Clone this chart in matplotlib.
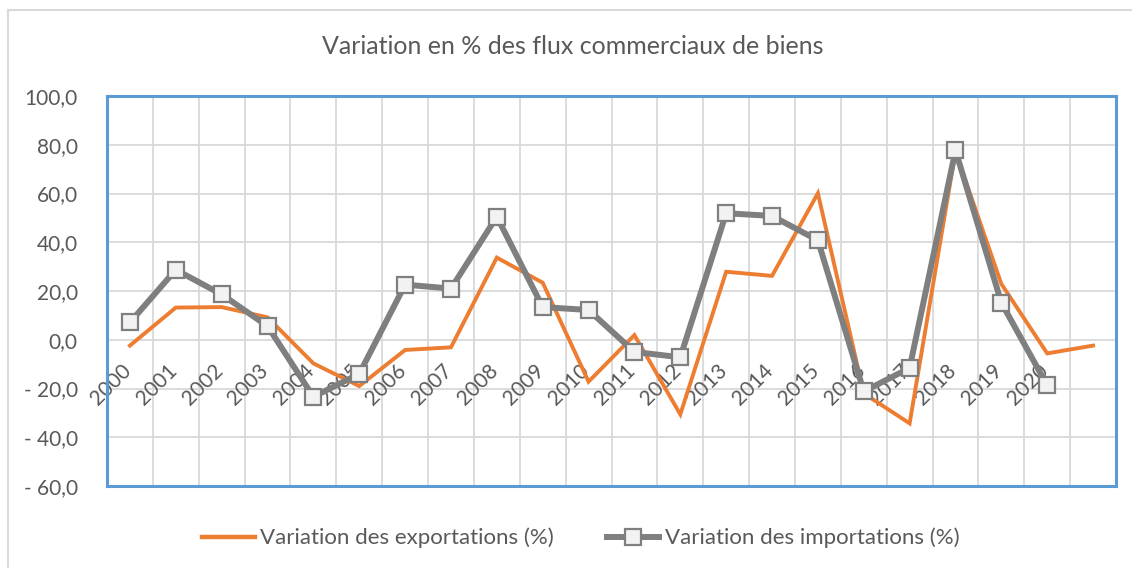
import matplotlib
matplotlib.use("Agg")
import matplotlib.pyplot as plt
from matplotlib.lines import Line2D
import matplotlib.transforms as mtransforms

years = [str(y) for y in range(2000, 2021)] + [""]
exports = [-2.4, 13.2, 13.4, 9.2, -9.7, -19.0, -4.2, -3.1, 33.7, 23.4, -17.2,
           1.9, -30.6, 27.9, 26.2, 60.1, -22.0, -34.3, 77.2, 22.9, -5.6, -2.4]
imports = [7.1, 28.7, 18.6, 5.6, -23.4, -14.0, 22.6, 21.0, 50.5, 13.4, 12.2,
           -5.0, -7.2, 51.9, 50.8, 40.8, -21.2, -11.6, 77.7, 15.2, -18.7]
yticks = [100, 80, 60, 40, 20, 0, -20, -40, -60]

title = "Variation en % des flux commerciaux de biens"
lab_exp = "Variation des exportations (%)"
lab_imp = "Variation des importations (%)"

plt.rcParams['font.family'] = ['Lato', 'DejaVu Sans']
txt = '#595959'
orange = '#ED7D31'
gray = '#7F7F7F'
blue = '#5B9BD5'
grid = '#D9D9D9'

fig = plt.figure(figsize=(11.32, 5.68), dpi=100)
ax = fig.add_axes([107/1132, 1-486/568, (1116-107)/1132, (486-96)/568])

n = len(years)
ax.set_xlim(-0.5, n-0.5)
ax.set_ylim(-60, 100)

# gridlines
for k in range(1, n):
    ax.axvline(k-0.5, color=grid, lw=1.3, zorder=0)
for v in yticks:
    ax.axhline(v, color=grid, lw=1.3, zorder=0)

ax.plot(range(len(exports)), exports, color=orange, lw=2.8, zorder=3,
        solid_joinstyle='miter')
ax.plot(range(len(imports)), imports, color=gray, lw=4.3, zorder=4,
        marker='s', markersize=11, markerfacecolor='#F2F2F2',
        markeredgecolor=gray, markeredgewidth=1.6)

for s in ax.spines.values():
    s.set_color(blue)
    s.set_linewidth(2.2)

ax.set_xticks([])
ax.set_yticks(yticks)
ax.set_yticklabels([f"{v:.1f}".replace('.', ',') if v >= 0 else "- " + f"{-v:.1f}".replace('.', ',') for v in yticks],
                   fontsize=15, color=txt)
ax.tick_params(axis='y', length=0, pad=21)

# x labels at the zero line, rotated
off = mtransforms.offset_copy(ax.transData, fig=fig, x=5, y=-21, units='dots')
for i, lab in enumerate(years):
    if lab:
        ax.text(i, 0, lab, rotation=45, ha='right', va='top', fontsize=15,
                color=txt, transform=off, zorder=2)

fig.text(573/1132, 1-46/568, title, ha='center', va='center', fontsize=18, color=txt)

handles = [Line2D([], [], color=orange, lw=3.2),
           Line2D([], [], color=gray, lw=4.3, marker='s', markersize=11,
                  markerfacecolor='#F2F2F2', markeredgecolor=gray, markeredgewidth=1.6)]
leg = fig.legend(handles, [lab_exp, lab_imp], loc='center', bbox_to_anchor=(581/1132, 1-538/568),
                 ncol=2, frameon=False, fontsize=16, handlelength=2.35, handletextpad=0.25,
                 columnspacing=2.4, labelcolor=txt)

# chart area border
fig.add_artist(Line2D([8/1132, 1], [1-10/568, 1-10/568], color='#D9D9D9', lw=1.5, transform=fig.transFigure))
fig.add_artist(Line2D([8/1132, 8/1132], [0, 1-10/568], color='#D9D9D9', lw=1.5, transform=fig.transFigure))

fig.savefig("out.png", dpi=100)
